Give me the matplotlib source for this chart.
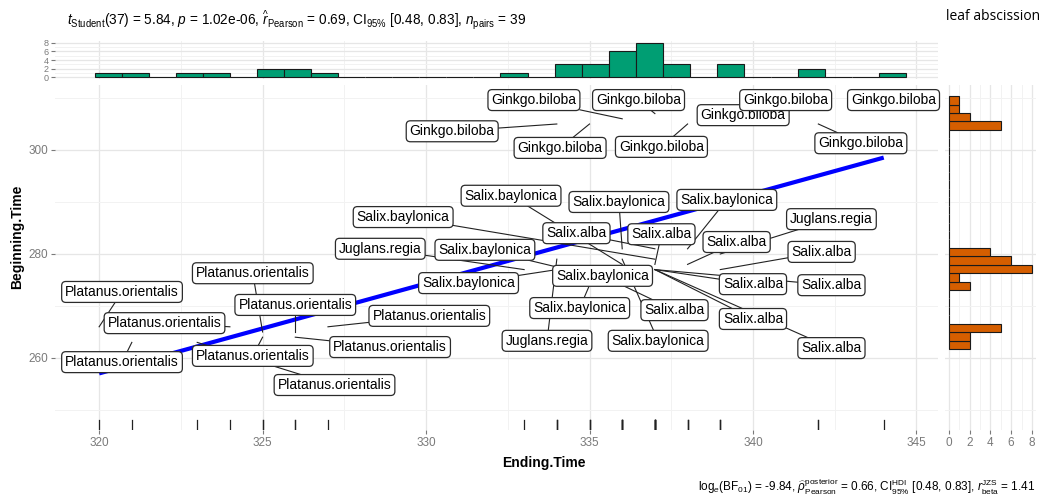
import matplotlib.pyplot as plt
import numpy as np

plt.rcParams['font.family'] = ['Liberation Sans', 'DejaVu Sans']
plt.rcParams['mathtext.fontset'] = 'custom'
plt.rcParams['mathtext.rm'] = 'Liberation Sans'
plt.rcParams['mathtext.it'] = 'Liberation Sans:italic'
plt.rcParams['mathtext.bf'] = 'Liberation Sans:bold'

# --- data: one row per tree --- #
species = (['Platanus.orientalis'] * 9 + ['Ginkgo.biloba'] * 9 +
           ['Salix.baylonica', 'Salix.baylonica', 'Salix.baylonica',
            'Salix.baylonica', 'Juglans.regia', 'Salix.alba', 'Salix.alba',
            'Juglans.regia', 'Salix.baylonica', 'Salix.alba', 'Salix.alba',
            'Salix.baylonica', 'Salix.baylonica', 'Salix.alba', 'Salix.alba',
            'Salix.baylonica', 'Salix.alba', 'Salix.alba', 'Juglans.regia',
            'Salix.baylonica', 'Salix.alba'])
ending_time = [320, 324, 321, 325, 326, 327, 326, 325, 323,
               336, 337, 334, 335, 338, 339, 342, 342, 344,
               336, 336, 338, 337, 339, 337, 337, 333, 335, 338, 339,
               334, 336, 337, 337, 335, 336, 337, 334, 336, 337]
beginning_time = [266, 266, 263, 265, 265, 266, 264, 264, 263,
                  306, 307, 305, 305, 305, 305, 305, 310, 308,
                  278, 281, 281, 279, 280, 281, 278, 277, 276, 278, 277,
                  277, 277, 277, 277, 274, 274, 277, 279, 279, 277]

# where the repelled labels ended up (label centres, data units)
label_xy = [(320.7, 272.7), (322.0, 266.7), (320.7, 259.2), (324.7, 276.3),
            (326.0, 270.2), (330.1, 268.1), (328.9, 262.1), (324.7, 260.4),
            (327.2, 254.8),
            (333.3, 309.6), (336.5, 309.6), (330.8, 303.6), (334.1, 300.4),
            (337.2, 300.6), (339.7, 306.7), (343.3, 301.3), (341.0, 309.6),
            (344.3, 309.6),
            (332.6, 291.2), (335.9, 290.0), (339.2, 290.4), (329.3, 287.1),
            (342.4, 286.7), (334.6, 284.0), (337.2, 283.8), (328.6, 281.0),
            (331.8, 280.8), (339.5, 282.3), (342.1, 280.4), (331.3, 274.4),
            (335.4, 275.8), (340.0, 274.2), (342.4, 274.0), (334.7, 269.6),
            (337.6, 269.2), (340.0, 267.5), (333.7, 263.3), (337.1, 263.3),
            (342.4, 261.9)]

subtitle = (r"$t_{\mathrm{Student}}$(37) = 5.84, $p$ = 1.02e-06, "
            r"$\widehat{r}_{\mathrm{Pearson}}$ = 0.69, CI$_{95\%}$ [0.48, 0.83], "
            r"$n_{\mathrm{pairs}}$ = 39")
caption = (r"log$_{e}$(BF$_{01}$) = -9.84, "
           r"$\widehat{\rho}_{\mathrm{Pearson}}^{\mathrm{posterior}}$ = 0.66, "
           r"CI$_{95\%}^{\mathrm{HDI}}$ [0.48, 0.83], "
           r"$r_{\mathrm{beta}}^{\mathrm{JZS}}$ = 1.41")

x = np.array(ending_time, dtype=float)
y = np.array(beginning_time, dtype=float)


def gg_bins(v, bins=30):
    # same breaks as ggplot2's geom_histogram(bins = 30), right-closed
    lo, hi = v.min(), v.max()
    width = (hi - lo) / (bins - 1)
    origin = width / 2 + np.floor((lo - width / 2) / width) * width
    edges = origin + width * np.arange(bins + 1)
    edges[1:] += 1e-8 * width
    counts = np.bincount(np.searchsorted(edges, v, side='left') - 1,
                         minlength=bins)
    return edges, counts


W, H = 1045, 500
GRID = '#E6E6E6'
GRID_MINOR = '#F2F2F2'
TICK = '#7A7A7A'


def rect(l, t, r, b):
    return [l / W, 1 - b / H, (r - l) / W, (b - t) / H]


fig = plt.figure(figsize=(W / 100, H / 100), dpi=100)
ax = fig.add_axes(rect(55, 85, 938, 430))
ax_top = fig.add_axes(rect(55, 41, 938, 79))
ax_right = fig.add_axes(rect(945, 85, 1036, 430))

xlim = (318.65, 345.66)
ylim = (246.15, 312.5)

for a in (ax, ax_top, ax_right):
    for s in a.spines.values():
        s.set_visible(False)
    a.tick_params(which='major', colors=TICK, labelsize=8.5, length=3,
                  width=0.8, pad=2)
    a.tick_params(which='minor', length=0)
    a.set_axisbelow(True)

# --- main panel --- #
ax.set_xlim(*xlim)
ax.set_ylim(*ylim)
ax.set_xticks(np.arange(320, 346, 5))
ax.set_xticks(np.arange(322.5, 346, 5), minor=True)
ax.set_yticks([260, 280, 300])
ax.set_yticks([250, 270, 290, 310], minor=True)
ax.grid(which='major', color=GRID, lw=0.9)
ax.grid(which='minor', color=GRID_MINOR, lw=0.7)

coef = np.polyfit(x, y, 1)
xs = np.array([x.min(), x.max()])
ax.plot(xs, np.polyval(coef, xs), color='blue', lw=3.0, zorder=2,
        solid_capstyle='butt')

for xv in x:
    ax.plot([xv, xv], [0, 0.03], color='#222222', lw=0.9,
            transform=ax.get_xaxis_transform(), zorder=2)

texts = []
for name, (lx, ly) in zip(species, label_xy):
    t = ax.text(lx, ly, name, ha='center', va='center', fontsize=10,
                zorder=5,
                bbox=dict(boxstyle='round,pad=0.25,rounding_size=0.3',
                          fc='white', ec='#2B2B2B', lw=0.9))
    texts.append(t)

# segments from label box edge to the data point (ggrepel style)
fig.canvas.draw()
renderer = fig.canvas.get_renderer()
inv = ax.transData.inverted()
for t, xv, yv in zip(texts, x, y):
    bb = t.get_bbox_patch().get_window_extent(renderer)
    px, py = ax.transData.transform((xv, yv))
    if bb.x0 <= px <= bb.x1 and bb.y0 <= py <= bb.y1:
        continue
    cx, cy = (bb.x0 + bb.x1) / 2, (bb.y0 + bb.y1) / 2
    dx, dy = px - cx, py - cy
    sx = bb.width / 2 / abs(dx) if dx else np.inf
    sy = bb.height / 2 / abs(dy) if dy else np.inf
    s = min(sx, sy)
    ex, ey = cx + s * dx, cy + s * dy
    if np.hypot(px - ex, py - ey) < 2:
        continue
    (x0, y0), (x1, y1) = inv.transform([(ex, ey), (px, py)])
    ax.plot([x0, x1], [y0, y1], color='#222222', lw=0.8, zorder=3)

# --- top marginal histogram --- #
edges, counts = gg_bins(x)
ax_top.bar(edges[:-1], counts, width=np.diff(edges), align='edge',
           color='#009E73', edgecolor='#1A1A1A', linewidth=0.8)
ax_top.set_xlim(*xlim)
ax_top.set_ylim(-0.4, 8.4)
ax_top.set_xticks(np.arange(320, 346, 5))
ax_top.set_xticks(np.arange(322.5, 346, 5), minor=True)
ax_top.set_yticks([0, 2, 4, 6, 8])
ax_top.set_yticks([1, 3, 5, 7], minor=True)
ax_top.tick_params(axis='x', labelbottom=False, length=0)
ax_top.tick_params(axis='y', labelsize=6.5, pad=1.5)
ax_top.grid(which='major', color=GRID, lw=0.9)
ax_top.grid(which='minor', color=GRID_MINOR, lw=0.7)

# --- right marginal histogram --- #
edges, counts = gg_bins(y)
ax_right.barh(edges[:-1], counts, height=np.diff(edges), align='edge',
              color='#D55E00', edgecolor='#1A1A1A', linewidth=0.8)
ax_right.set_ylim(*ylim)
ax_right.set_xlim(-0.4, 8.4)
ax_right.set_xticks([0, 2, 4, 6, 8])
ax_right.set_xticks([1, 3, 5, 7], minor=True)
ax_right.set_yticks([260, 280, 300])
ax_right.set_yticks([250, 270, 290, 310], minor=True)
ax_right.tick_params(axis='y', labelleft=False, length=0)
ax_right.grid(which='major', color=GRID, lw=0.9)
ax_right.grid(which='minor', color=GRID_MINOR, lw=0.7)

# --- texts --- #
fig.text(67 / W, 1 - 20 / H, subtitle, ha='left', va='center', fontsize=9.8)
fig.text(1040 / W, 1 - 17 / H, 'leaf abscission', ha='right', va='center',
         fontsize=10, family='Open Sans')
fig.text(1035 / W, 1 - 487 / H, caption, ha='right', va='center',
         fontsize=8.5)
fig.text(544 / W, 1 - 463 / H, 'Ending.Time', ha='center', va='center',
         fontsize=10, fontweight='bold')
fig.text(17 / W, 1 - 237 / H, 'Beginning.Time', ha='center', va='center',
         rotation=90, fontsize=10, fontweight='bold')

fig.savefig('out.png', dpi=100)
